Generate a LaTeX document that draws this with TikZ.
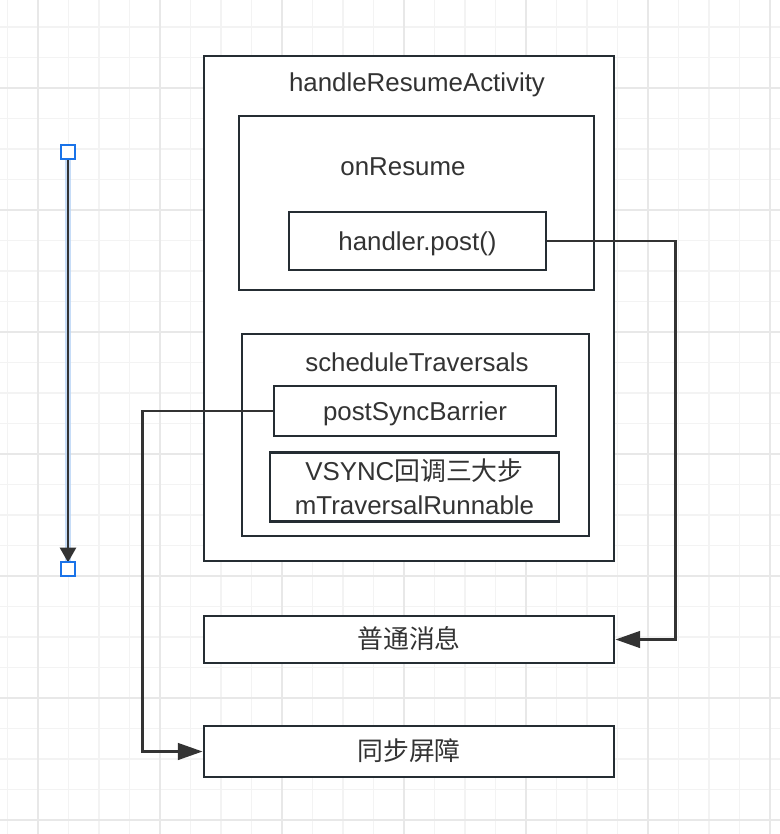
\documentclass[tikz,border=0pt]{standalone}
\usepackage{fontspec}
\setmainfont{Liberation Sans}
\newfontfamily\cjk{Noto Sans CJK SC}
\usetikzlibrary{arrows.meta}
\definecolor{linec}{HTML}{252D33}
\definecolor{flowc}{HTML}{333333}
\definecolor{textc}{HTML}{333333}
\definecolor{selc}{HTML}{1A73E8}
\definecolor{glowc}{HTML}{B8D4F5}
\definecolor{minorc}{HTML}{F3F3F3}
\definecolor{majorc}{HTML}{E8E8E8}
\tikzset{
  frame/.style={draw=linec, line width=2.2pt, fill=white, text=textc, inner sep=0pt},
  box/.style={frame, text height=13.9pt, text depth=0pt},
  lbl/.style={text=textc, inner sep=0pt, text height=13.9pt, text depth=0pt},
  flow/.style={draw=flowc, line width=1.8pt, -{Triangle[length=18.5pt,width=12.5pt]}},
  handle/.style={draw=selc, line width=1.3pt, fill=white, minimum size=10.5pt, inner sep=0pt},
  gridminor/.style={minorc, line width=0.8pt},
  gridmajor/.style={majorc, line width=1.1pt}
}

\begin{document}
\begin{tikzpicture}[x=0.75pt,y=-0.75pt,font=\fontsize{19.4}{25.5}\selectfont]
  \useasboundingbox (0,0) rectangle (780,834);
  \fill[white] (0,0) rectangle (780,834);
  % background grid
  \foreach \gx in {7.5,38,...,780} \draw[gridminor] (\gx,0) -- (\gx,834);
  \foreach \gy in {-3.5,27,...,834} \draw[gridminor] (0,\gy) -- (780,\gy);
  \foreach \gx in {38,160,...,780} \draw[gridmajor] (\gx,0) -- (\gx,834);
  \foreach \gy in {88,210,...,834} \draw[gridmajor] (0,\gy) -- (780,\gy);

  % boxes
  \node[frame, minimum width=307.5pt, minimum height=378.75pt] (resume) at (409,308.5) {};
  \node[frame, minimum width=266.25pt, minimum height=130.5pt] (onres) at (416.5,203) {};
  \node[box, minimum width=192.75pt, minimum height=43.5pt] (post) at (417.5,241) {handler.post()};
  \node[frame, minimum width=260.25pt, minimum height=151.5pt] (sched) at (415.5,435) {};
  \node[box, minimum width=211.5pt, minimum height=37.5pt] (barrier) at (415,411) {postSyncBarrier};
  \node[frame, minimum width=216.75pt, minimum height=51.75pt, align=center] (vsync) at (414.5,487)
    {VSYNC{\cjk 回调三大步}\\mTraversalRunnable};
  \node[box, minimum width=307.5pt, minimum height=35.25pt] (msg) at (409,639.5) {\cjk 普通消息};
  \node[box, minimum width=307.5pt, minimum height=38.25pt] (sync) at (409,751.5) {\cjk 同步屏障};

  % titles
  \node[lbl] (resumettl) at (417,82) {handleResumeActivity};
  \node[lbl] (onresttl) at (403,166) {onResume};
  \node[lbl] (schedttl) at (417,362) {scheduleTraversals};

  % connectors
  \draw[flow] (post.east) -- ++(128,0) |- (msg.east);
  \draw[flow] (barrier.west) -- ++(-130,0) |- (sync.west);

  % selected edge on the left
  \coordinate (top) at (68,152);
  \coordinate (bot) at (68,569);
  \draw[glowc, line width=5pt, opacity=0.8] (top) -- (bot);
  \draw[flowc, line width=1.8pt, -{Triangle[length=11pt,width=12pt]}] (top) -- ([yshift=5pt]bot);
  \node[handle] (toph) at (top) {};
  \node[handle] (both) at (bot) {};
\end{tikzpicture}
\end{document}
